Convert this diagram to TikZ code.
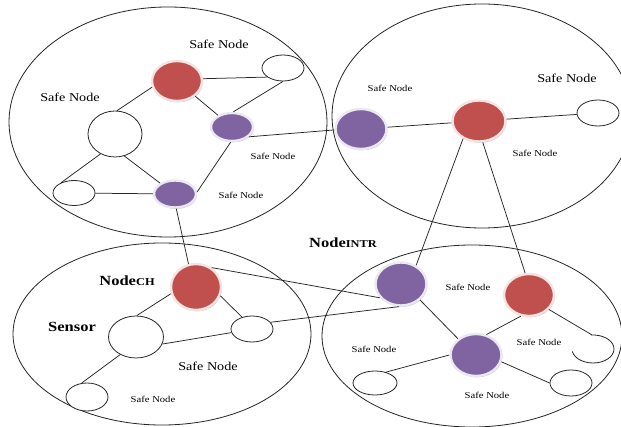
\documentclass[tikz,border=0pt]{standalone}
\usepackage{fontspec}
\setmainfont{Liberation Serif}
\usetikzlibrary{shapes.geometric,shadows}
\definecolor{nred}{HTML}{C0504D}
\definecolor{npur}{HTML}{8064A2}
\definecolor{rring}{HTML}{F6E4E3}
\definecolor{pring}{HTML}{ECE8F2}
\definecolor{lin}{HTML}{262626}
\newcommand\hsx[1]{\scalebox{1.18}[1]{#1}}
\begin{document}
\begin{tikzpicture}[x=1pt,y=-1pt,
  region/.style={draw=lin, line width=0.8pt},
  wire/.style={draw=lin, line width=0.75pt},
  sens/.style={ellipse, draw=lin, line width=0.8pt, fill=white, inner sep=0pt},
  colnode/.style={ellipse, line width=2.4pt, inner sep=0pt,
     drop shadow={shadow xshift=0.9pt, shadow yshift=-1.3pt, fill=black, opacity=0.25}},
  chn/.style={colnode, fill=nred, draw=rring},
  pun/.style={colnode, fill=npur, draw=pring},
  lbig/.style={font=\fontsize{12}{14}\selectfont, inner sep=0pt},
  lsmall/.style={font=\fontsize{9}{11}\selectfont, inner sep=0pt},
  lbold/.style={font=\fontsize{14}{16}\selectfont\bfseries, inner sep=0pt}]
\useasboundingbox (0,0) rectangle (621,427);
\clip (0,0) rectangle (621,427);
\fill[white] (0,0) rectangle (621,427);

% regions
\draw[region] (168,122) ellipse (159pt and 115pt);
\draw[region] (482,116) ellipse (150pt and 112pt);
\draw[region] (162,334) ellipse (149pt and 91pt);
\draw[region] (472,336) ellipse (150pt and 91pt);

% top-left cluster
\node[chn, minimum width=50pt, minimum height=40pt] (r1) at (177,81) {};
\node[sens, minimum width=42pt, minimum height=26pt] (w1) at (283,68) {};
\node[pun, minimum width=42pt, minimum height=28pt] (p1) at (232,127) {};
\node[sens, minimum width=54pt, minimum height=46pt] (w2) at (115,134) {};
\node[sens, minimum width=42pt, minimum height=25pt] (w3) at (74,193) {};
\node[pun, minimum width=42pt, minimum height=27pt] (p2) at (175,194) {};

% top-right cluster
\node[pun, minimum width=51pt, minimum height=40pt] (p3) at (361,129) {};
\node[chn, minimum width=53pt, minimum height=41pt] (r2) at (479,121) {};
\node[sens, minimum width=42pt, minimum height=26pt] (w4) at (598,113) {};

% bottom-left cluster
\node[chn, minimum width=50pt, minimum height=46pt] (r3) at (196,287) {};
\node[sens, minimum width=55pt, minimum height=42pt] (w5) at (136,337) {};
\node[sens, minimum width=42pt, minimum height=26pt] (w6) at (252,329) {};
\node[sens, minimum width=42pt, minimum height=28pt] (w7) at (87,397) {};

% bottom-right cluster
\node[pun, minimum width=51pt, minimum height=43pt] (p4) at (401,284) {};
\node[chn, minimum width=50pt, minimum height=42pt] (r4) at (529,295) {};
\node[pun, minimum width=51pt, minimum height=42pt] (p5) at (476,355) {};
\node[sens, minimum width=44pt, minimum height=24pt] (w8) at (375,383) {};
\node[sens, minimum width=42pt, minimum height=26pt] (w9) at (571,383) {};
\node[ellipse, inner sep=0pt, minimum width=42pt, minimum height=28pt] (w10) at (593,349) {};
\draw[region] ([shift={(190:21pt and 14pt)}]w10.center) arc[start angle=190, end angle=455, x radius=21pt, y radius=14pt];

% connectors
\draw[wire] (r1.5) -- (w1.210);
\draw[wire] (r1) -- (p1);
\draw[wire] (p1.85) -- (w1.270);
\draw[wire] (r1.194) -- (w2.85);
\draw[wire] (w2.234) -- (w3.142);
\draw[wire] (w2.293) -- (p2.144);
\draw[wire] (w3) -- (p2);
\draw[wire] (p2.5) -- (p1.265);
\draw[wire] (p1.-30) -- (p3.182);
\draw[wire] (p2.275) -- (r3.108);
\draw[wire] (p3) -- (r2);
\draw[wire] (r2) -- (w4);
\draw[wire] (r2.228) -- (p4.51);
\draw[wire] (r2.280) -- (r4.100);
\draw[wire] (r3.195) -- (w5.88);
\draw[wire] (r3.340) -- (w6.130);
\draw[wire] (w5.345) -- (w6.190);
\draw[wire] (w5.228) -- (w7.111);
\draw[wire] (r3.51) -- (p4.213);
\draw[wire] (w6.20) -- (p4.265);
\draw[wire] (p4.320) -- (p5.138);
\draw[wire] (r4.249) -- (p5.63);
\draw[wire] (r4.324) -- (w10.95);
\draw[wire] (p5.180) -- (w8.45);
\draw[wire] (p5.345) -- (w9.180);

% labels
\node[lbig] (t1) at (219,44) {\hsx{Safe Node}};
\node[lbig] (t2) at (70,97) {\hsx{Safe Node}};
\node[lsmall] (t3) at (273,156) {\hsx{Safe Node}};
\node[lsmall] (t4) at (241,195) {\hsx{Safe Node}};
\node[lsmall] (t5) at (390,88) {\hsx{Safe Node}};
\node[lbig] (t6) at (567,78) {\hsx{Safe Node}};
\node[lsmall] (t7) at (535,153) {\hsx{Safe Node}};
\node[lbold] (t8) at (127,281) {\hsx{Node{\fontsize{10.5}{12}\selectfont CH}}};
\node[lbold] (t9) at (72,327) {\hsx{Sensor}};
\node[lbig] (t10) at (208,366) {\hsx{Safe Node}};
\node[lsmall] (t11) at (153,399) {\hsx{Safe Node}};
\node[lbold] (t12) at (343,243) {\hsx{Node{\fontsize{10.5}{12}\selectfont INTR}}};
\node[lsmall] (t13) at (468,287) {\hsx{Safe Node}};
\node[lsmall] (t14) at (539,342) {\hsx{Safe Node}};
\node[lsmall] (t15) at (374,349) {\hsx{Safe Node}};
\node[lsmall] (t16) at (487,395) {\hsx{Safe Node}};
\end{tikzpicture}
\end{document}
